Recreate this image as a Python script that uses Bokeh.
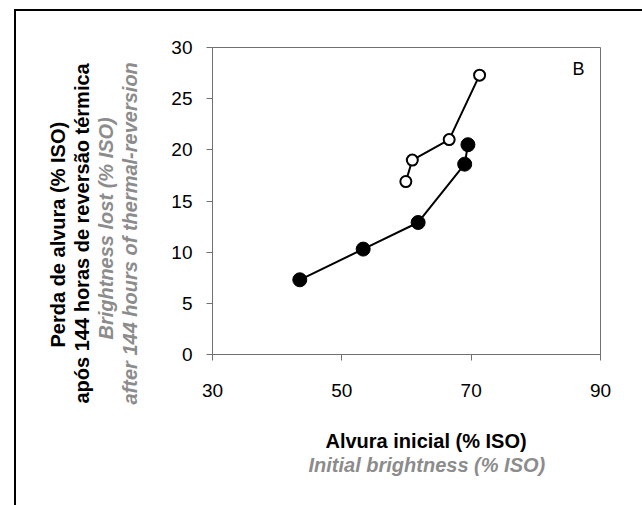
from bokeh.plotting import figure
from bokeh.models import Range1d, FixedTicker, Label, Title, LinearAxis
from bokeh.embed import file_html
from bokeh.resources import INLINE

# Data
filled_x = [43.5, 53.3, 61.8, 69.0, 69.5]
filled_y = [7.3, 10.3, 12.9, 18.6, 20.5]
open_x = [59.9, 60.9, 66.6, 71.3]
open_y = [16.9, 19.0, 21.0, 27.3]
x_ticks = [30, 50, 70, 90]
y_ticks = [0, 5, 10, 15, 20, 25, 30]

ylab_pt = ["Perda de alvura (% ISO)", "após 144 horas de reversão térmica"]
ylab_en = ["Brightness lost (% ISO)", "after 144 hours of thermal-reversion"]
xlab_pt = "Alvura inicial (% ISO)"
xlab_en = "Initial brightness (% ISO)"
panel_letter = "B"

FONT = "Liberation Sans"
GRAY = "#8c8c8c"
AXC = "#707070"

border_css = ("linear-gradient(#000,#000) 14px 9px / 2px 700px no-repeat, "
              "linear-gradient(#000,#000) 14px 9px / 800px 2px no-repeat, #ffffff")

p = figure(width=642, height=505, x_range=Range1d(30, 90), y_range=Range1d(0, 30),
           output_backend="svg", toolbar_location=None,
           min_border_left=212, min_border_right=42, min_border_top=47, min_border_bottom=151,
           styles={"background": border_css})
p.border_fill_color = None
p.background_fill_color = "white"
p.grid.visible = False
p.outline_line_color = AXC
p.outline_line_width = 1

for ax in (p.xaxis[0], p.yaxis[0]):
    ax.axis_line_color = AXC
    ax.major_tick_line_color = AXC
    ax.minor_tick_line_color = None
    ax.major_tick_out = 6
    ax.major_tick_in = 0
    ax.major_label_text_font = FONT
    ax.major_label_text_font_size = "19px"
    ax.major_label_text_color = "black"

p.xaxis[0].ticker = FixedTicker(ticks=x_ticks)
p.yaxis[0].ticker = FixedTicker(ticks=y_ticks)
p.xaxis[0].major_label_standoff = 23
p.yaxis[0].major_label_standoff = 14


def spacer(size, tick):
    # blank axis (invisible tick, empty label) used only to reserve space
    return LinearAxis(ticker=FixedTicker(ticks=[tick]), axis_line_color=None,
                      major_tick_line_color=None, minor_tick_line_color=None,
                      major_tick_out=size, major_tick_in=0, major_label_standoff=0,
                      major_label_overrides={tick: ""})


p.add_layout(spacer(28, 15), "left")
p.add_layout(spacer(28, 60), "below")

p.line(filled_x, filled_y, line_color="black", line_width=2)
p.scatter(filled_x, filled_y, size=14, fill_color="black", line_color="black")
p.line(open_x, open_y, line_color="black", line_width=2)
p.scatter(open_x, open_y, size=11, fill_color="white", line_color="black", line_width=2)

p.add_layout(Label(x=86.6, y=27.9, text=panel_letter,
                   text_font=FONT, text_font_size="18px", text_align="center",
                   text_baseline="middle", text_color="black"))

# y axis title lines, innermost first
ytexts = ylab_pt + ylab_en
yoffs = [7, -49, 15, -50]
for i in [3, 2, 1, 0]:
    en = i >= 2
    p.add_layout(Title(text=ytexts[i], align="left", offset=yoffs[i], standoff=0,
                       text_font=FONT, text_font_size="20px",
                       text_font_style="bold italic" if en else "bold",
                       text_color=GRAY if en else "black"), "left")

p.add_layout(Title(text=xlab_pt, align="left", offset=113, standoff=0,
                   text_font=FONT, text_font_size="20px", text_font_style="bold",
                   text_color="black"), "below")
p.add_layout(Title(text=xlab_en, align="left", offset=96, standoff=0,
                   text_font=FONT, text_font_size="20px", text_font_style="bold italic",
                   text_color=GRAY), "below")

open("out.html", "w").write(file_html(p, INLINE))
